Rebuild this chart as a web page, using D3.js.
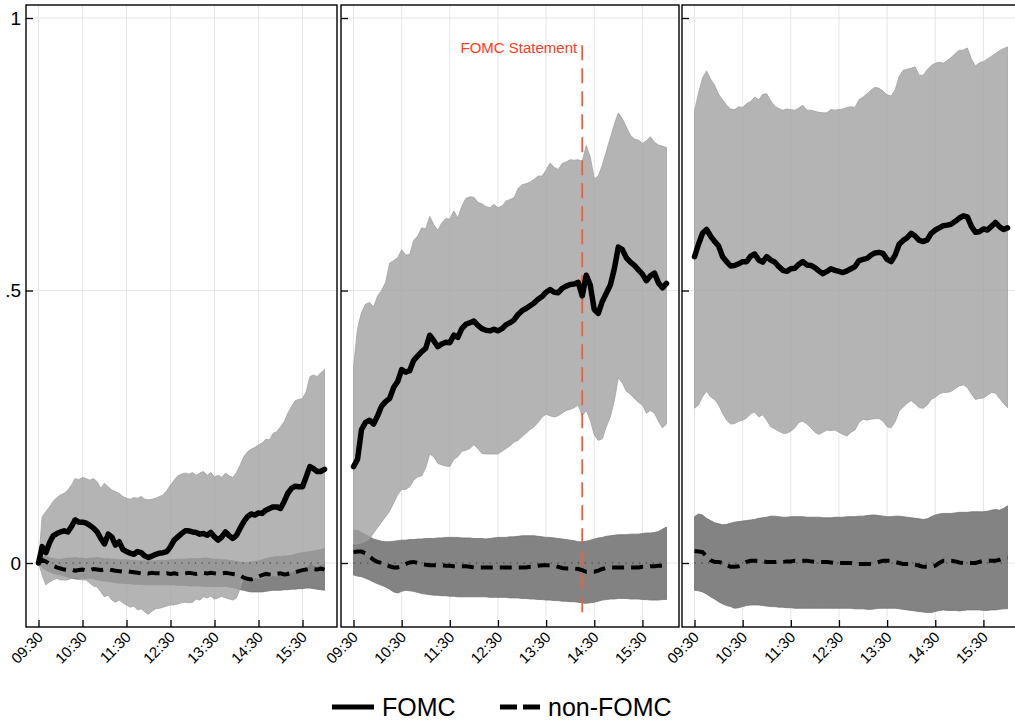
<!DOCTYPE html>
<html>
<head>
<meta charset="utf-8">
<script src="https://cdn.jsdelivr.net/npm/d3@7"></script>
<style>
  body { margin: 0; background: #fff; }
  svg { display: block; font-family: "Liberation Sans", Arial, Helvetica, sans-serif; }
</style>
</head>
<body>
<svg id="chart" width="1015" height="723"></svg>
<script>
// minutes since 09:30, sampled every 5 minutes
const minutes = d3.range(0, 391, 5);
const tickMinutes = [0, 60, 120, 180, 240, 300, 360];
const tickLabels = ['09:30', '10:30', '11:30', '12:30', '13:30', '14:30', '15:30'];
const yTicks = [0, 0.5, 1];
const yTickLabels = ['0', '.5', '1'];
const statementMinute = 285; // 14:15
const legendLabels = ['FOMC', 'non-FOMC'];

// panel 1
const p1Fomc = [0, 0.030, 0.019, 0.037, 0.050, 0.054, 0.057, 0.059, 0.057, 0.067,
  0.079, 0.075, 0.075, 0.073, 0.069, 0.064, 0.057, 0.045, 0.035, 0.053,
  0.048, 0.033, 0.039, 0.025, 0.021, 0.018, 0.016, 0.021, 0.019, 0.013,
  0.010, 0.013, 0.016, 0.018, 0.019, 0.021, 0.030, 0.042, 0.048, 0.054,
  0.059, 0.059, 0.057, 0.056, 0.053, 0.054, 0.051, 0.056, 0.048, 0.042,
  0.048, 0.057, 0.050, 0.045, 0.051, 0.064, 0.076, 0.085, 0.090, 0.088,
  0.092, 0.091, 0.097, 0.100, 0.103, 0.103, 0.100, 0.113, 0.128, 0.137,
  0.141, 0.140, 0.140, 0.158, 0.177, 0.173, 0.168, 0.168, 0.172];
const p1FomcHi = [0, 0.085, 0.094, 0.103, 0.113, 0.120, 0.125, 0.128, 0.134, 0.143,
  0.155, 0.153, 0.157, 0.155, 0.152, 0.155, 0.149, 0.137, 0.146, 0.140,
  0.134, 0.131, 0.128, 0.122, 0.119, 0.117, 0.120, 0.119, 0.122, 0.117,
  0.116, 0.117, 0.119, 0.122, 0.125, 0.133, 0.143, 0.152, 0.160, 0.163,
  0.165, 0.163, 0.166, 0.161, 0.165, 0.168, 0.161, 0.166, 0.158, 0.161,
  0.157, 0.165, 0.160, 0.157, 0.166, 0.180, 0.195, 0.204, 0.209, 0.212,
  0.217, 0.220, 0.227, 0.226, 0.238, 0.241, 0.250, 0.259, 0.275, 0.287,
  0.298, 0.300, 0.302, 0.314, 0.342, 0.345, 0.342, 0.349, 0.355];
const p1FomcLo = [0, -0.022, -0.040, -0.035, -0.031, -0.028, -0.031, -0.031, -0.031, -0.028,
  -0.026, -0.028, -0.031, -0.031, -0.037, -0.042, -0.044, -0.053, -0.062, -0.059,
  -0.068, -0.072, -0.068, -0.073, -0.077, -0.081, -0.079, -0.086, -0.084, -0.090,
  -0.094, -0.088, -0.084, -0.083, -0.081, -0.079, -0.077, -0.077, -0.075, -0.073,
  -0.072, -0.073, -0.072, -0.066, -0.068, -0.062, -0.064, -0.061, -0.066, -0.064,
  -0.061, -0.064, -0.066, -0.068, -0.064, -0.046, -0.024, -0.026, -0.028, -0.026,
  -0.028, -0.028, -0.024, -0.026, -0.022, -0.024, -0.022, -0.017, -0.013, -0.017,
  -0.013, -0.015, -0.017, -0.009, 0.002, -0.004, -0.006, -0.002, -0.002];
const p1Non = [0, 0.006, 0.003, -0.002, -0.005, -0.008, -0.010, -0.012, -0.013, -0.012,
  -0.014, -0.013, -0.012, -0.014, -0.013, -0.011, -0.012, -0.013, -0.012, -0.011,
  -0.013, -0.014, -0.015, -0.016, -0.015, -0.016, -0.017, -0.018, -0.019, -0.018,
  -0.019, -0.018, -0.019, -0.019, -0.020, -0.019, -0.020, -0.019, -0.020, -0.020,
  -0.019, -0.018, -0.019, -0.020, -0.019, -0.018, -0.019, -0.018, -0.019, -0.020,
  -0.019, -0.018, -0.019, -0.020, -0.021, -0.023, -0.027, -0.029, -0.030, -0.028,
  -0.025, -0.022, -0.020, -0.021, -0.022, -0.020, -0.019, -0.021, -0.020, -0.018,
  -0.017, -0.015, -0.013, -0.012, -0.010, -0.011, -0.012, -0.010, -0.012];
const p1NonHi = [0, 0.010, 0.012, 0.010, 0.008, 0.007, 0.007, 0.008, 0.009, 0.009,
  0.010, 0.009, 0.009, 0.008, 0.009, 0.009, 0.010, 0.009, 0.008, 0.008,
  0.007, 0.007, 0.006, 0.006, 0.006, 0.005, 0.005, 0.004, 0.004, 0.004,
  0.004, 0.004, 0.004, 0.005, 0.005, 0.005, 0.006, 0.006, 0.007, 0.007,
  0.007, 0.008, 0.008, 0.008, 0.008, 0.009, 0.009, 0.008, 0.007, 0.007,
  0.006, 0.006, 0.005, 0.004, 0.003, 0.002, 0.001, 0.001, 0.002, 0.003,
  0.004, 0.006, 0.008, 0.010, 0.011, 0.012, 0.012, 0.013, 0.013, 0.014,
  0.016, 0.018, 0.019, 0.020, 0.021, 0.022, 0.023, 0.025, 0.027];
const p1NonLo = [0, -0.008, -0.013, -0.016, -0.019, -0.021, -0.022, -0.024, -0.026, -0.028,
  -0.029, -0.030, -0.029, -0.028, -0.028, -0.029, -0.031, -0.032, -0.033, -0.034,
  -0.035, -0.036, -0.037, -0.037, -0.038, -0.038, -0.039, -0.039, -0.039, -0.040,
  -0.040, -0.040, -0.040, -0.040, -0.040, -0.040, -0.040, -0.040, -0.041, -0.041,
  -0.041, -0.042, -0.042, -0.042, -0.042, -0.043, -0.043, -0.043, -0.043, -0.043,
  -0.043, -0.043, -0.044, -0.045, -0.047, -0.049, -0.050, -0.052, -0.053, -0.053,
  -0.053, -0.053, -0.052, -0.051, -0.050, -0.050, -0.050, -0.049, -0.049, -0.048,
  -0.048, -0.047, -0.047, -0.046, -0.046, -0.047, -0.048, -0.049, -0.050];

// panel 2
const p2Fomc = [0.177, 0.190, 0.245, 0.258, 0.262, 0.255, 0.270, 0.288, 0.296, 0.302,
  0.322, 0.333, 0.355, 0.350, 0.353, 0.372, 0.380, 0.388, 0.394, 0.418,
  0.408, 0.397, 0.402, 0.405, 0.404, 0.418, 0.414, 0.430, 0.438, 0.441,
  0.444, 0.436, 0.430, 0.427, 0.426, 0.429, 0.426, 0.430, 0.437, 0.441,
  0.446, 0.456, 0.463, 0.467, 0.472, 0.477, 0.484, 0.489, 0.497, 0.502,
  0.497, 0.496, 0.504, 0.508, 0.511, 0.512, 0.515, 0.490, 0.528, 0.510,
  0.465, 0.458, 0.480, 0.495, 0.510, 0.540, 0.580, 0.575, 0.560, 0.552,
  0.546, 0.538, 0.530, 0.518, 0.527, 0.532, 0.514, 0.505, 0.513];
const p2FomcHi = [0.360, 0.430, 0.460, 0.475, 0.478, 0.470, 0.490, 0.500, 0.515, 0.550,
  0.555, 0.560, 0.575, 0.565, 0.566, 0.592, 0.600, 0.615, 0.613, 0.636,
  0.621, 0.611, 0.624, 0.632, 0.631, 0.646, 0.633, 0.655, 0.669, 0.672,
  0.671, 0.662, 0.659, 0.654, 0.652, 0.658, 0.652, 0.655, 0.664, 0.667,
  0.670, 0.687, 0.694, 0.696, 0.699, 0.704, 0.710, 0.710, 0.721, 0.734,
  0.726, 0.722, 0.733, 0.736, 0.740, 0.739, 0.740, 0.737, 0.766, 0.745,
  0.705, 0.710, 0.730, 0.755, 0.780, 0.805, 0.826, 0.815, 0.800, 0.785,
  0.778, 0.776, 0.770, 0.775, 0.782, 0.772, 0.767, 0.765, 0.762];
const p2FomcLo = [0.035, 0.035, 0.037, 0.040, 0.045, 0.055, 0.065, 0.075, 0.085, 0.095,
  0.110, 0.125, 0.135, 0.135, 0.140, 0.152, 0.158, 0.160, 0.175, 0.200,
  0.195, 0.183, 0.180, 0.178, 0.177, 0.190, 0.195, 0.205, 0.207, 0.210,
  0.217, 0.210, 0.201, 0.200, 0.200, 0.200, 0.200, 0.205, 0.210, 0.215,
  0.222, 0.225, 0.232, 0.238, 0.245, 0.250, 0.258, 0.268, 0.273, 0.270,
  0.268, 0.270, 0.275, 0.280, 0.282, 0.285, 0.290, 0.270, 0.280, 0.262,
  0.235, 0.225, 0.228, 0.250, 0.268, 0.298, 0.340, 0.330, 0.315, 0.310,
  0.302, 0.295, 0.290, 0.275, 0.280, 0.275, 0.260, 0.248, 0.255];
const p2Non = [0.020, 0.021, 0.021, 0.018, 0.012, 0.006, 0.002, 0.000, -0.003, -0.006,
  -0.008, -0.008, -0.006, -0.002, 0.001, 0.002, 0.000, -0.002, -0.003, -0.004,
  -0.004, -0.004, -0.004, -0.005, -0.005, -0.006, -0.006, -0.006, -0.006, -0.007,
  -0.008, -0.008, -0.008, -0.008, -0.008, -0.008, -0.008, -0.008, -0.008, -0.008,
  -0.008, -0.008, -0.008, -0.008, -0.007, -0.006, -0.005, -0.004, -0.004, -0.004,
  -0.005, -0.007, -0.009, -0.010, -0.010, -0.010, -0.011, -0.013, -0.016, -0.016,
  -0.016, -0.014, -0.011, -0.009, -0.008, -0.008, -0.008, -0.008, -0.008, -0.008,
  -0.008, -0.008, -0.007, -0.007, -0.006, -0.006, -0.005, -0.005, -0.004];
const p2NonHi = [0.060, 0.060, 0.056, 0.052, 0.048, 0.044, 0.042, 0.040, 0.039, 0.039,
  0.040, 0.041, 0.042, 0.042, 0.043, 0.043, 0.044, 0.044, 0.045, 0.045,
  0.045, 0.046, 0.046, 0.047, 0.047, 0.047, 0.047, 0.046, 0.046, 0.046,
  0.045, 0.045, 0.045, 0.044, 0.045, 0.046, 0.047, 0.047, 0.047, 0.048,
  0.048, 0.049, 0.050, 0.050, 0.050, 0.050, 0.049, 0.048, 0.047, 0.047,
  0.046, 0.045, 0.044, 0.043, 0.042, 0.041, 0.039, 0.039, 0.040, 0.042,
  0.044, 0.046, 0.047, 0.049, 0.050, 0.051, 0.052, 0.052, 0.052, 0.053,
  0.053, 0.053, 0.054, 0.055, 0.055, 0.056, 0.058, 0.062, 0.066];
const p2NonLo = [-0.022, -0.024, -0.025, -0.028, -0.031, -0.035, -0.038, -0.041, -0.044, -0.048,
  -0.053, -0.055, -0.052, -0.050, -0.051, -0.052, -0.054, -0.056, -0.057, -0.058,
  -0.059, -0.059, -0.060, -0.060, -0.061, -0.061, -0.062, -0.062, -0.062, -0.062,
  -0.062, -0.062, -0.062, -0.062, -0.063, -0.063, -0.063, -0.063, -0.063, -0.064,
  -0.064, -0.064, -0.065, -0.065, -0.066, -0.066, -0.067, -0.067, -0.068, -0.068,
  -0.069, -0.069, -0.070, -0.070, -0.071, -0.071, -0.072, -0.073, -0.074, -0.073,
  -0.072, -0.070, -0.068, -0.067, -0.066, -0.066, -0.065, -0.065, -0.065, -0.066,
  -0.066, -0.066, -0.067, -0.067, -0.068, -0.068, -0.068, -0.067, -0.067];

// panel 3
const p3Fomc = [0.562, 0.585, 0.605, 0.612, 0.600, 0.590, 0.582, 0.562, 0.553, 0.545,
  0.546, 0.549, 0.553, 0.553, 0.563, 0.567, 0.556, 0.552, 0.562, 0.556,
  0.552, 0.544, 0.537, 0.535, 0.540, 0.541, 0.548, 0.553, 0.547, 0.546,
  0.542, 0.536, 0.531, 0.535, 0.540, 0.537, 0.535, 0.533, 0.536, 0.540,
  0.544, 0.555, 0.557, 0.559, 0.565, 0.569, 0.570, 0.568, 0.557, 0.553,
  0.565, 0.585, 0.592, 0.597, 0.605, 0.600, 0.592, 0.590, 0.593, 0.605,
  0.611, 0.615, 0.619, 0.620, 0.622, 0.627, 0.633, 0.637, 0.635, 0.618,
  0.607, 0.608, 0.613, 0.611, 0.618, 0.625, 0.617, 0.612, 0.615];
const p3FomcHi = [0.830, 0.862, 0.890, 0.903, 0.888, 0.877, 0.860, 0.850, 0.840, 0.833,
  0.832, 0.837, 0.836, 0.843, 0.847, 0.855, 0.850, 0.860, 0.861, 0.848,
  0.838, 0.834, 0.831, 0.833, 0.832, 0.831, 0.835, 0.840, 0.831, 0.831,
  0.829, 0.827, 0.826, 0.826, 0.832, 0.831, 0.832, 0.833, 0.836, 0.837,
  0.836, 0.850, 0.855, 0.861, 0.868, 0.873, 0.871, 0.866, 0.859, 0.857,
  0.868, 0.893, 0.904, 0.906, 0.908, 0.910, 0.895, 0.895, 0.905, 0.913,
  0.917, 0.919, 0.917, 0.922, 0.928, 0.935, 0.941, 0.941, 0.945, 0.925,
  0.912, 0.918, 0.920, 0.925, 0.930, 0.935, 0.940, 0.944, 0.947];
const p3FomcLo = [0.284, 0.290, 0.305, 0.315, 0.305, 0.300, 0.290, 0.275, 0.262, 0.255,
  0.256, 0.260, 0.262, 0.266, 0.274, 0.277, 0.268, 0.272, 0.262, 0.250,
  0.246, 0.242, 0.238, 0.238, 0.242, 0.248, 0.258, 0.260, 0.255, 0.248,
  0.240, 0.236, 0.240, 0.244, 0.243, 0.244, 0.240, 0.236, 0.233, 0.240,
  0.244, 0.258, 0.264, 0.262, 0.264, 0.265, 0.265, 0.260, 0.250, 0.248,
  0.259, 0.279, 0.286, 0.293, 0.298, 0.292, 0.285, 0.284, 0.290, 0.300,
  0.304, 0.310, 0.313, 0.313, 0.315, 0.320, 0.325, 0.327, 0.322, 0.310,
  0.300, 0.302, 0.303, 0.308, 0.313, 0.312, 0.302, 0.293, 0.285];
const p3Non = [0.022, 0.021, 0.020, 0.012, 0.005, 0.002, 0.002, 0.000, -0.004, -0.007,
  -0.007, -0.006, -0.002, 0.002, 0.004, 0.004, 0.004, 0.003, 0.002, 0.002,
  0.002, 0.002, 0.002, 0.003, 0.003, 0.004, 0.004, 0.004, 0.004, 0.003,
  0.002, 0.002, 0.002, 0.002, 0.001, 0.000, 0.000, 0.000, 0.000, 0.000,
  -0.001, -0.002, -0.002, -0.002, -0.002, 0.000, 0.002, 0.004, 0.004, 0.004,
  0.002, 0.000, -0.002, -0.002, -0.002, -0.003, -0.005, -0.007, -0.007, -0.007,
  -0.005, 0.000, 0.004, 0.004, 0.004, 0.003, 0.001, 0.000, 0.000, 0.000,
  0.000, 0.002, 0.004, 0.004, 0.004, 0.004, 0.006, 0.009, 0.010];
const p3NonHi = [0.085, 0.090, 0.088, 0.082, 0.078, 0.074, 0.072, 0.070, 0.071, 0.073,
  0.075, 0.076, 0.077, 0.078, 0.079, 0.080, 0.082, 0.083, 0.084, 0.086,
  0.086, 0.085, 0.084, 0.084, 0.085, 0.085, 0.085, 0.085, 0.084, 0.084,
  0.084, 0.084, 0.083, 0.083, 0.083, 0.084, 0.084, 0.084, 0.085, 0.085,
  0.085, 0.086, 0.086, 0.087, 0.088, 0.088, 0.087, 0.086, 0.085, 0.085,
  0.086, 0.086, 0.085, 0.084, 0.083, 0.082, 0.081, 0.080, 0.081, 0.085,
  0.088, 0.090, 0.091, 0.091, 0.091, 0.092, 0.093, 0.093, 0.093, 0.094,
  0.094, 0.094, 0.094, 0.095, 0.097, 0.098, 0.097, 0.100, 0.105];
const p3NonLo = [-0.050, -0.051, -0.053, -0.057, -0.062, -0.066, -0.071, -0.075, -0.078, -0.080,
  -0.083, -0.082, -0.080, -0.078, -0.077, -0.077, -0.077, -0.078, -0.079, -0.080,
  -0.080, -0.081, -0.081, -0.082, -0.082, -0.083, -0.083, -0.083, -0.083, -0.083,
  -0.083, -0.083, -0.083, -0.083, -0.083, -0.083, -0.083, -0.083, -0.083, -0.083,
  -0.084, -0.084, -0.084, -0.085, -0.085, -0.084, -0.083, -0.083, -0.083, -0.083,
  -0.083, -0.084, -0.085, -0.086, -0.087, -0.088, -0.089, -0.090, -0.091, -0.091,
  -0.089, -0.087, -0.086, -0.087, -0.087, -0.087, -0.088, -0.087, -0.086, -0.086,
  -0.086, -0.086, -0.087, -0.087, -0.086, -0.086, -0.085, -0.084, -0.084];

// layout
const plotTop = 5, plotBottom = 627, pad = 12.5;
const panels = [
  { left: 26, right: 337, fomc: p1Fomc, fomcLo: p1FomcLo, fomcHi: p1FomcHi, non: p1Non, nonLo: p1NonLo, nonHi: p1NonHi, yLabels: true },
  { left: 341, right: 679, fomc: p2Fomc, fomcLo: p2FomcLo, fomcHi: p2FomcHi, non: p2Non, nonLo: p2NonLo, nonHi: p2NonHi, statement: true },
  { left: 682, right: 1020, fomc: p3Fomc, fomcLo: p3FomcLo, fomcHi: p3FomcHi, non: p3Non, nonLo: p3NonLo, nonHi: p3NonHi },
];

const svg = d3.select('#chart');

const y = d3.scaleLinear().domain([-0.1174, 1.0239]).range([plotBottom, plotTop]);

panels.forEach((p, pi) => {
  const x = d3.scaleLinear().domain([0, 390]).range([p.left + pad, p.right - pad]);
  const g = svg.append('g').attr('class', 'panel');

  const clipId = 'clip' + pi;
  svg.append('clipPath').attr('id', clipId)
    .append('rect')
    .attr('x', p.left).attr('y', plotTop)
    .attr('width', p.right - p.left).attr('height', plotBottom - plotTop);

  const plot = g.append('g').attr('clip-path', `url(#${clipId})`);

  // grid
  plot.selectAll('.vgrid').data(tickMinutes).join('line')
    .attr('x1', d => x(d)).attr('x2', d => x(d))
    .attr('y1', plotTop).attr('y2', plotBottom)
    .attr('stroke', '#e6e6e6').attr('stroke-width', 1);
  plot.selectAll('.hgrid').data(yTicks).join('line')
    .attr('x1', p.left).attr('x2', p.right)
    .attr('y1', d => y(d)).attr('y2', d => y(d))
    .attr('stroke', '#e6e6e6').attr('stroke-width', 1);

  const band = (lo, hi) => d3.area()
    .x((d, i) => x(minutes[i]))
    .y0((d, i) => y(lo[i]))
    .y1((d, i) => y(hi[i]));

  // non-FOMC band underneath
  plot.append('path')
    .datum(minutes)
    .attr('d', band(p.nonLo, p.nonHi))
    .attr('fill', '#838383')
    .attr('stroke', '#727272')
    .attr('stroke-width', 0.8);

  // FOMC band, partly see-through
  plot.append('path')
    .datum(minutes)
    .attr('d', band(p.fomcLo, p.fomcHi))
    .attr('fill', 'rgb(158,158,158)')
    .attr('fill-opacity', 0.775)
    .attr('stroke', '#a2a2a2')
    .attr('stroke-width', 0.8);

  // zero reference
  plot.append('line')
    .attr('x1', x(0)).attr('x2', x(390))
    .attr('y1', y(0)).attr('y2', y(0))
    .attr('stroke', '#333')
    .attr('stroke-width', 1.2)
    .attr('stroke-dasharray', '1.2,5.6');

  if (p.statement) {
    plot.append('line')
      .attr('x1', x(statementMinute)).attr('x2', x(statementMinute))
      .attr('y1', y(0.95)).attr('y2', y(-0.096))
      .attr('stroke', '#f25c3e')
      .attr('stroke-width', 1.8)
      .attr('stroke-dasharray', '15,8');
    plot.append('text')
      .attr('x', x(statementMinute) - 5)
      .attr('y', 53)
      .attr('text-anchor', 'end')
      .attr('font-size', 15)
      .attr('fill', '#ff3a1c')
      .text('FOMC Statement');
  }

  const line = vals => d3.line()
    .x((d, i) => x(minutes[i]))
    .y((d, i) => y(vals[i]));

  plot.append('path')
    .datum(minutes)
    .attr('d', line(p.non))
    .attr('fill', 'none')
    .attr('stroke', '#000')
    .attr('stroke-width', 4)
    .attr('stroke-dasharray', '12,7');

  plot.append('path')
    .datum(minutes)
    .attr('d', line(p.fomc))
    .attr('fill', 'none')
    .attr('stroke', '#000')
    .attr('stroke-width', 5.5)
    .attr('stroke-linejoin', 'round')
    .attr('stroke-linecap', 'round');

  // frame
  g.append('rect')
    .attr('x', p.left).attr('y', plotTop)
    .attr('width', p.right - p.left).attr('height', plotBottom - plotTop)
    .attr('fill', 'none')
    .attr('stroke', '#000')
    .attr('stroke-width', 1.4);

  // y axis: inward ticks
  const yAxis = g.append('g')
    .attr('transform', `translate(${p.left},0)`)
    .call(d3.axisLeft(y)
      .tickValues(yTicks)
      .tickSize(-7)
      .tickPadding(5)
      .tickFormat((d, i) => p.yLabels ? yTickLabels[i] : ''));
  yAxis.select('.domain').remove();
  yAxis.attr('font-family', null);
  yAxis.selectAll('.tick line').attr('stroke-width', 1.3);
  yAxis.selectAll('.tick text').attr('font-size', 19).attr('fill', '#000');

  // x axis: inward ticks with rotated labels
  const xAxis = g.append('g')
    .attr('transform', `translate(0,${plotBottom})`)
    .call(d3.axisBottom(x)
      .tickValues(tickMinutes)
      .tickSize(-7)
      .tickFormat((d, i) => tickLabels[i]));
  xAxis.select('.domain').remove();
  xAxis.attr('font-family', null);
  xAxis.selectAll('.tick line').attr('stroke-width', 1.3);
  xAxis.selectAll('.tick text')
    .attr('x', 0).attr('y', 0).attr('dy', null)
    .attr('text-anchor', 'end')
    .attr('transform', 'translate(5,11) rotate(-45)')
    .attr('font-size', 15)
    .attr('fill', '#000');
});

// legend
const legend = svg.append('g');
legend.append('line')
  .attr('x1', 332).attr('x2', 374).attr('y1', 707).attr('y2', 707)
  .attr('stroke', '#000').attr('stroke-width', 5);
legend.append('text')
  .attr('x', 382).attr('y', 716)
  .attr('font-size', 25)
  .text(legendLabels[0]);
legend.append('line')
  .attr('x1', 500).attr('x2', 540).attr('y1', 707).attr('y2', 707)
  .attr('stroke', '#000').attr('stroke-width', 5)
  .attr('stroke-dasharray', '17,6');
legend.append('text')
  .attr('x', 548).attr('y', 716)
  .attr('font-size', 25)
  .text(legendLabels[1]);
</script>
</body>
</html>
